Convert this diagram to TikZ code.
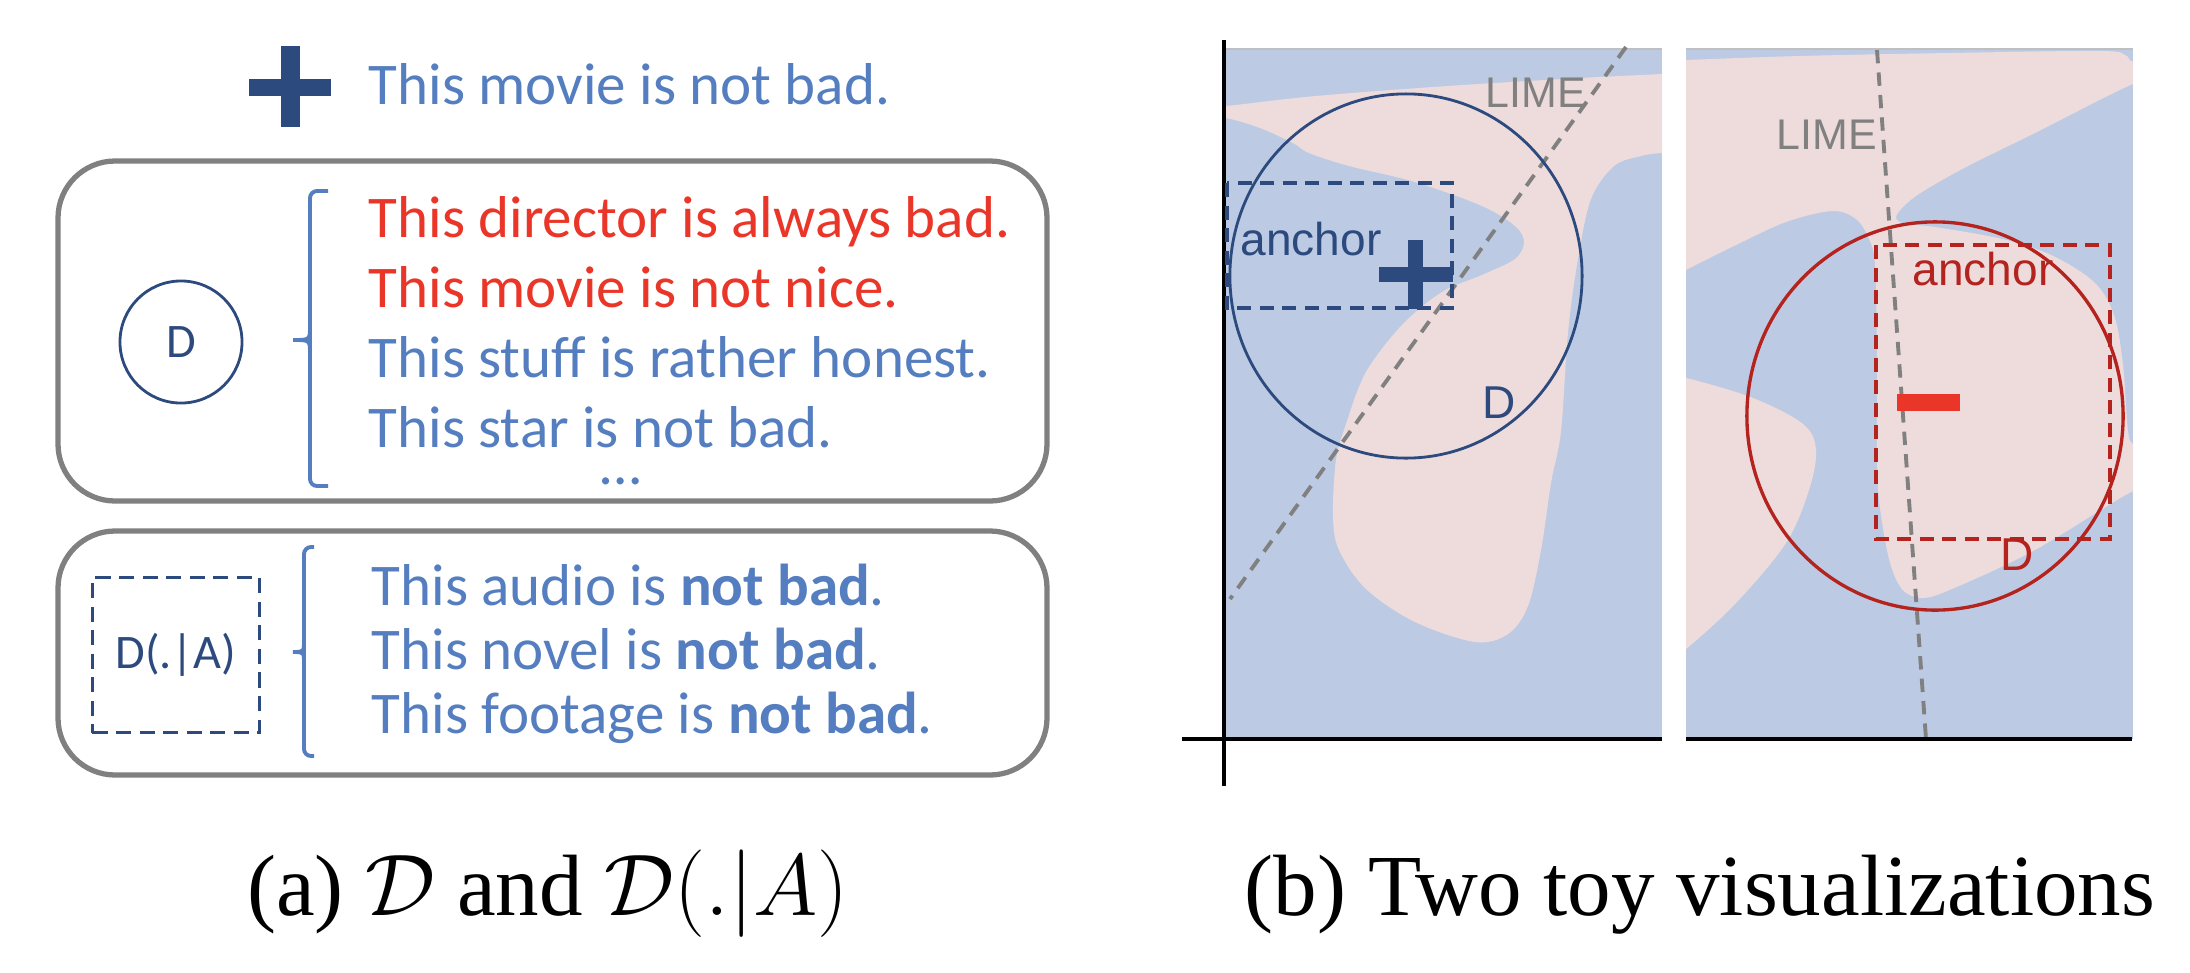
\documentclass[tikz,border=0pt]{standalone}
\usepackage{fontspec}
\setmainfont{Liberation Serif}
\newfontfamily\calibrifont{Carlito}
\newfontfamily\arialfont{Liberation Sans}
\usepackage{tikz}
\usetikzlibrary{positioning}
\definecolor{navycolor}{RGB}{44,74,126}
\definecolor{textblue}{RGB}{84,126,192}
\definecolor{textred}{RGB}{234,54,40}
\definecolor{darkred}{RGB}{180,35,30}
\definecolor{plotblue}{RGB}{188,203,227}
\definecolor{plotpink}{RGB}{238,220,220}
\definecolor{framegray}{RGB}{128,128,128}

\begin{document}
\begin{tikzpicture}[
    x=0.01cm, y=-0.01cm,
    sentence/.style={anchor=base west, inner sep=0pt, text=textblue, font=\calibrifont\fontsize{16.8}{20}\selectfont},
    negsentence/.style={sentence, text=textred},
    roundbox/.style={draw=framegray, line width=1.5pt, rounded corners=0.57cm},
    brace/.style={draw=textblue, line width=1.1pt, rounded corners=2pt},
    setlabel/.style={inner sep=0pt, text=navycolor, font=\calibrifont\fontsize{13.7}{16}\selectfont},
    plotlabel/.style={anchor=base west, inner sep=0pt, font=\arialfont\fontsize{13.1}{15}\selectfont},
    limelabel/.style={plotlabel, text=framegray, font=\arialfont\fontsize{12.2}{14}\selectfont},
    limeline/.style={draw=framegray, line width=1.1pt, dash pattern=on 3.8pt off 2.6pt},
    anchorbox/.style={line width=0.95pt, dash pattern=on 4pt off 2.4pt},
    axisline/.style={draw=black, line width=0.95pt},
    caption/.style={anchor=base, inner sep=0pt, font=\fontsize{24.75}{30}\selectfont}
]
\useasboundingbox (0,0) rectangle (2190,972);

% Query sentence
\fill[navycolor] (249,79) rectangle (331,96);
\fill[navycolor] (281,46) rectangle (300,127);
\node[sentence] (movie) at (368,104) {This movie is not bad.};

% Sampling distribution D
\draw[roundbox] (58,161) rectangle (1047,501);
\node[setlabel, circle, draw=navycolor, line width=0.8pt, minimum size=1.22cm] (setD) at (181,342) {D};
\draw[brace] (328,191) -- (310,191) -- (310,486) -- (328,486);
\draw[brace, rounded corners=0pt] (310,326) .. controls (310,340) .. (293,340) .. controls (310,340) .. (310,354);
\node[negsentence] (dir) at (368,237) {This director is always bad.};
\node[negsentence] (nice) at (368,307) {This movie is not nice.};
\node[sentence] (stuff) at (368,377) {This stuff is rather honest.};
\node[sentence] (star) at (368,447) {This star is not bad.};
\node[sentence, anchor=base] (dots) at (621,484) {\dots};

% Conditional distribution D(.|A)
\draw[roundbox] (58,531) rectangle (1047,775);
\node[setlabel, draw=navycolor, line width=0.8pt, dash pattern=on 4.3pt off 2.4pt,
      minimum width=1.67cm, minimum height=1.55cm] (setDA) at (176,655) {D(.|A)};
\draw[brace] (314,547) -- (304,547) -- (304,756) -- (314,756);
\draw[brace, rounded corners=0pt] (304,640) .. controls (304,652) .. (293,652) .. controls (304,652) .. (304,664);
\node[sentence] (audio) at (371,605) {This audio is \textbf{not bad}.};
\node[sentence] (novel) at (371,669) {This novel is \textbf{not bad}.};
\node[sentence] (footage) at (371,733) {This footage is \textbf{not bad}.};

% Left toy plot
\fill[plotblue] (1226,49) rectangle (1662,739);
\begin{scope}
  \clip (1226,49) rectangle (1662,739);
  \fill[plotpink] plot[smooth cycle, tension=0.55] coordinates {
    (1190,108) (1226,106) (1316,96) (1448,86) (1581,78) (1662,74) (1700,72)
    (1700,152) (1662,153) (1641,156) (1614,166) (1591,199) (1578,259) (1568,332)
    (1561,431) (1551,483) (1541,550) (1528,606) (1508,634) (1475,642) (1415,622)
    (1366,589) (1339,550) (1333,516) (1336,460) (1346,424) (1366,372) (1402,325)
    (1442,292) (1482,275) (1515,259) (1524,242) (1515,226) (1482,206) (1415,182)
    (1349,166) (1309,153) (1293,143) (1260,128) (1226,118) (1190,114)};
\end{scope}
\draw[gray!50, line width=0.5pt] (1226,49) -- (1662,49);
\coordinate (limeAtop) at (1626,47);
\coordinate (limeAbot) at (1230,599);
\draw[limeline] (limeAtop) -- (limeAbot);
\draw[axisline] (1224,40) -- (1224,786);
\draw[axisline] (1182,739) -- (1662,739);
\draw[navycolor, line width=0.8pt] (1406,276) ellipse [x radius=1.76cm, y radius=1.82cm];
\draw[navycolor, anchorbox] (1227,183) rectangle (1452,308);
\fill[navycolor] (1379,267) rectangle (1453,282);
\fill[navycolor] (1408,240) rectangle (1423,309);
\node[plotlabel, text=navycolor] (anchorA) at (1240,255) {anchor};
\node[limelabel] (limeA) at (1485,107) {LIME};
\node[plotlabel, text=navycolor] (ballA) at (1482,418) {D};

% Right toy plot
\fill[plotblue] (1686,49) rectangle (2133,739);
\begin{scope}
  \clip (1686,49) rectangle (2133,739);
  \fill[plotpink] plot[smooth cycle, tension=0.55] coordinates {
    (1660,61) (1686,60) (1800,56) (1950,53) (2100,51) (2125,55) (2133,62) (2165,70)
    (2160,82) (2133,84) (2035,133) (1968,166) (1922,192) (1903,207) (1896,218)
    (1906,224) (1935,227) (2002,239) (2051,255) (2094,282) (2114,315) (2123,365)
    (2128,431) (2135,445) (2165,455) (2165,485) (2133,491) (2035,550) (1952,589)
    (1922,598) (1902,589) (1889,559) (1879,500) (1877,450) (1877,357) (1875,265)
    (1869,239) (1856,219) (1832,211) (1786,222) (1736,245) (1686,270) (1660,285)};
  \fill[plotpink] plot[smooth cycle, tension=0.55] coordinates {
    (1660,376) (1686,378) (1753,398) (1803,424) (1816,450) (1809,490) (1786,543)
    (1736,603) (1686,649) (1660,665)};
\end{scope}
\draw[gray!50, line width=0.5pt] (1686,49) -- (2133,49);
\coordinate (limeBtop) at (1877,50);
\coordinate (limeBbot) at (1926,739);
\draw[limeline] (limeBtop) -- (limeBbot);
\draw[axisline] (1686,739) -- (2132,739);
\draw[darkred, line width=0.95pt] (1935,416) ellipse [x radius=1.88cm, y radius=1.94cm];
\draw[darkred, anchorbox] (1876,245) rectangle (2110,539);
\fill[textred] (1897,394) rectangle (1960,411);
\node[plotlabel, text=darkred] (anchorB) at (1912,285) {anchor};
\node[limelabel] (limeB) at (1776,149) {LIME};
\node[plotlabel, text=darkred] (ballB) at (2000,570) {D};

% Captions
\node[caption] (capA) at (548,915) {(a) $\mathcal{D}$ and $\mathcal{D}(.|A)$};
\node[caption] (capB) at (1700,915) {(b) Two toy visualizations};

\end{tikzpicture}
\end{document}
